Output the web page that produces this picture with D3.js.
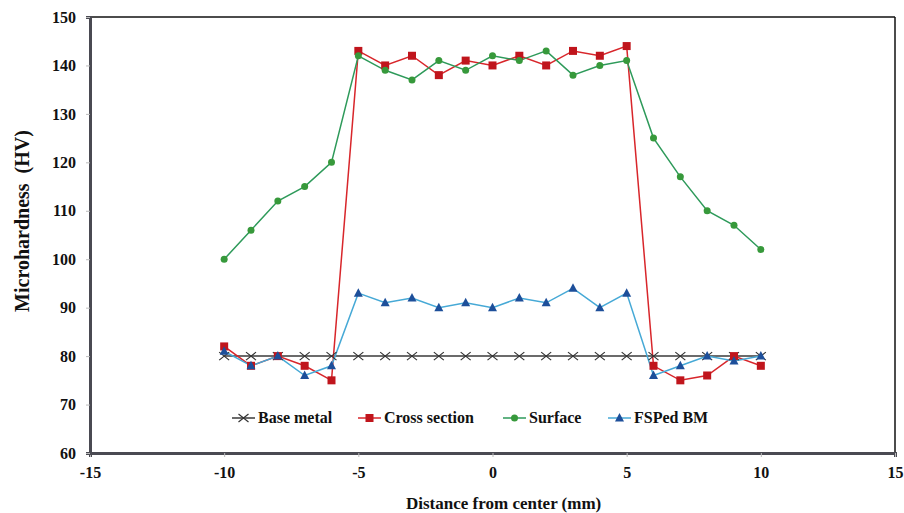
<!DOCTYPE html>
<html>
<head>
<meta charset="utf-8">
<script src="https://cdn.jsdelivr.net/npm/d3@7"></script>
<style>
  body { margin: 0; background: #fff; }
  text { font-family: "Liberation Serif", "Times New Roman", serif; font-weight: bold; }
</style>
</head>
<body>
<script>
// data
var distance = [-10,-9,-8,-7,-6,-5,-4,-3,-2,-1,0,1,2,3,4,5,6,7,8,9,10];
var baseMetal    = [80,80,80,80,80,80,80,80,80,80,80,80,80,80,80,80,80,80,80,80,80];
var crossSection = [82,78,80,78,75,143,140,142,138,141,140,142,140,143,142,144,78,75,76,80,78];
var surface      = [100,106,112,115,120,142,139,137,141,139,142,141,143,138,140,141,125,117,110,107,102];
var fspedBM      = [81,78,80,76,78,93,91,92,90,91,90,92,91,94,90,93,76,78,80,79,80];
var xTicks = [-15,-10,-5,0,5,10,15];
var yTicks = [60,70,80,90,100,110,120,130,140,150];

// size
var w_svg = 904, h_svg = 513;
var pLeft = 90, pRight = 895, pTop = 17, pBottom = 453;

var svg = d3.select("body").append("svg")
  .attr("width", w_svg).attr("height", h_svg);

var xScale = d3.scaleLinear().domain([-15, 15]).range([pLeft, pRight]);
var yScale = d3.scaleLinear().domain([60, 150]).range([pBottom, pTop]);

// frame top and right
svg.append("line").attr("x1", pLeft).attr("x2", pRight).attr("y1", pTop).attr("y2", pTop)
  .attr("stroke", "#111").attr("stroke-width", 1.5);
svg.append("line").attr("x1", pRight).attr("x2", pRight).attr("y1", pTop).attr("y2", pBottom)
  .attr("stroke", "#111").attr("stroke-width", 1.5);

// axes
var fmt = function(d) { return String(d); };
var x_axis = d3.axisBottom(xScale).tickValues(xTicks).tickFormat(fmt).tickSize(4).tickPadding(10);
var gx = svg.append("g").attr("transform", "translate(0," + pBottom + ")").call(x_axis);
var y_axis = d3.axisLeft(yScale).tickValues(yTicks).tickFormat(fmt).tickSize(4).tickPadding(10);
var gy = svg.append("g").attr("transform", "translate(" + pLeft + ",0)").call(y_axis);
[gx, gy].forEach(function(g) {
  g.select(".domain").attr("stroke", "#4a4a52").attr("stroke-width", 3);
  g.selectAll(".tick line").attr("stroke", "#bbb");
  g.selectAll(".tick text").style("font-size", "16px").attr("fill", "#111")
    .style("font-family", "'Liberation Serif', serif").style("font-weight", "bold");
});

// axis titles
svg.append("text").attr("x", 406).attr("y", 509)
  .style("font-size", "17px").attr("fill", "#111").text("Distance from center (mm)");
svg.append("text").attr("transform", "translate(29,221) rotate(-90)")
  .attr("text-anchor", "middle").style("font-size", "20px").attr("fill", "#111")
  .style("word-spacing", "5px").text("Microhardness (HV)");

var series = [
  { name: "Base metal", values: baseMetal, line: "#3a3a3a", mark: "#333", shape: "x" },
  { name: "Cross section", values: crossSection, line: "#d8262b", mark: "#c0151c", shape: "square" },
  { name: "Surface", values: surface, line: "#2e9a5a", mark: "#37993b", shape: "circle" },
  { name: "FSPed BM", values: fspedBM, line: "#46a9d6", mark: "#1d4f9a", shape: "triangle" }
];

function drawMarker(g, s, cx, cy) {
  if (s.shape === "x") {
    g.append("path").attr("d", "M" + (cx - 5) + "," + (cy - 4) + "L" + (cx + 5) + "," + (cy + 4) +
      "M" + (cx - 5) + "," + (cy + 4) + "L" + (cx + 5) + "," + (cy - 4))
      .attr("stroke", s.mark).attr("stroke-width", 1.2).attr("fill", "none");
  } else if (s.shape === "square") {
    g.append("rect").attr("x", cx - 4).attr("y", cy - 4).attr("width", 8).attr("height", 8)
      .attr("fill", s.mark);
  } else if (s.shape === "circle") {
    g.append("circle").attr("cx", cx).attr("cy", cy).attr("r", 3.5).attr("fill", s.mark);
  } else {
    g.append("path").attr("d", "M" + cx + "," + (cy - 5) + "L" + (cx + 4.5) + "," + (cy + 3.5) +
      "L" + (cx - 4.5) + "," + (cy + 3.5) + "Z").attr("fill", s.mark);
  }
}

var line = d3.line()
  .x(function(d, i) { return xScale(distance[i]); })
  .y(function(d) { return yScale(d); });

series.forEach(function(s) {
  svg.append("path").datum(s.values).attr("d", line)
    .attr("fill", "none").attr("stroke", s.line).attr("stroke-width", 1.5);
});
series.forEach(function(s) {
  var g = svg.append("g");
  s.values.forEach(function(v, i) {
    drawMarker(g, s, xScale(distance[i]), yScale(v));
  });
});

// legend
var legX = [232, 358, 503, 608];
series.forEach(function(s, i) {
  var g = svg.append("g");
  var y = 418;
  g.append("line").attr("x1", legX[i]).attr("x2", legX[i] + 23).attr("y1", y).attr("y2", y)
    .attr("stroke", s.line).attr("stroke-width", 1.5);
  drawMarker(g, s, legX[i] + 11.5, y);
  g.append("text").attr("x", legX[i] + 26).attr("y", y + 5)
    .style("font-size", "16px").attr("fill", "#111").text(s.name);
});
</script>
</body>
</html>
